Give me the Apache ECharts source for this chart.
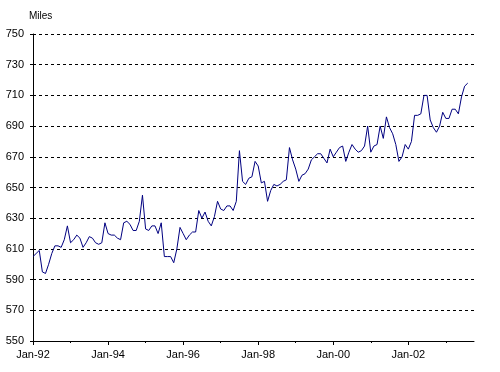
<!DOCTYPE html>
<html>
<head>
<meta charset="utf-8">
<script src="https://cdn.jsdelivr.net/npm/echarts@6/dist/echarts.min.js"></script>
<style>html,body{margin:0;padding:0;background:#fff}#c{width:500px;height:372px}</style>
</head>
<body>
<div id="c"></div>
<script>
const monthNames = ['Jan','Feb','Mar','Apr','May','Jun','Jul','Aug','Sep','Oct','Nov','Dec'];
const years = [1992,1993,1994,1995,1996,1997,1998,1999,2000,2001,2002,2003];
const lastMonth2003 = 9; // axis runs to Oct-03
const yTicks = [550,570,590,610,630,650,670,690,710,730,750];
const yUnit = 'Miles';

const categories = [];
years.forEach(y => {
  monthNames.forEach((m, i) => {
    if (y === 2003 && i > lastMonth2003) return;
    categories.push(m + '-' + String(y).slice(2));
  });
});

// Monthly values, Jan-92 .. Aug-03
const miles1992 = [605,607,609,595,594,600,607,612,612,611,616,625];
const miles1993 = [614,616,619,617,611,614,618,617,614,613,614,627];
const miles1994 = [620,619,619,617,616,627,628,626,622,622,628,645];
const miles1995 = [623,622,625,625,620,627,605,605,605,601,610,624];
const miles1996 = [620,616,619,621,621,635,630,634,628,625,631,641];
const miles1997 = [636,635,638,638,635,641,674,654,652,656,657,667];
const miles1998 = [664,653,654,641,648,652,651,652,654,655,676,668];
const miles1999 = [662,654,658,659,662,668,670,672,672,669,666,675];
const miles2000 = [670,673,676,677,667,673,678,675,673,674,677,690];
const miles2001 = [673,677,678,690,682,696,689,685,678,667,670,678];
const miles2002 = [675,680,697,697,698,710,710,694,689,686,690,699];
const miles2003 = [695,695,701,701,698,709,716,718];
const miles = [].concat(miles1992,miles1993,miles1994,miles1995,miles1996,miles1997,
  miles1998,miles1999,miles2000,miles2001,miles2002,miles2003);

const FONT = 'Liberation Sans, Arial, sans-serif';
const isJan = v => v.indexOf('Jan') === 0;
const yr = v => parseInt(v.slice(4), 10);

const chart = echarts.init(document.getElementById('c'));
chart.setOption({
  animation: false,
  backgroundColor: '#fff',
  title: {
    text: yUnit, left: 24, top: 6,
    textStyle: { fontFamily: FONT, fontSize: 10, fontWeight: 'normal', color: '#000' }
  },
  grid: { left: 33, right: 26, top: 34, bottom: 31, containLabel: false },
  xAxis: [{
    type: 'category',
    data: categories,
    boundaryGap: false,
    axisLine: { lineStyle: { color: '#000', width: 1 } },
    axisTick: { show: true, length: 4, lineStyle: { color: '#000' },
      interval: (i, v) => isJan(v) && yr(v) % 2 === 0 },
    axisLabel: { color: '#000', fontFamily: FONT, fontSize: 11, margin: 8,
      interval: (i, v) => isJan(v) && yr(v) % 2 === 0 },
    splitLine: { show: false }
  }, {
    type: 'category',
    data: categories,
    boundaryGap: false,
    position: 'bottom',
    axisLine: { show: false },
    axisTick: { show: true, length: 2, lineStyle: { color: '#000' },
      interval: (i, v) => isJan(v) && yr(v) % 2 === 1 },
    axisLabel: { show: false },
    splitLine: { show: false }
  }],
  yAxis: {
    type: 'value',
    min: yTicks[0], max: yTicks[yTicks.length - 1], interval: 20,
    axisLine: { show: true, lineStyle: { color: '#000', width: 1 } },
    axisTick: { show: true, length: 3, lineStyle: { color: '#000' } },
    axisLabel: { color: '#000', fontFamily: FONT, fontSize: 11, margin: 9 },
    splitLine: { show: true, lineStyle: { color: '#000', width: 1, type: [3, 3] } }
  },
  series: [{
    type: 'line',
    data: miles,
    xAxisIndex: 0,
    showSymbol: false,
    symbol: 'none',
    lineStyle: { color: '#000080', width: 1 },
    z: 3
  }]
});
</script>
</body>
</html>
